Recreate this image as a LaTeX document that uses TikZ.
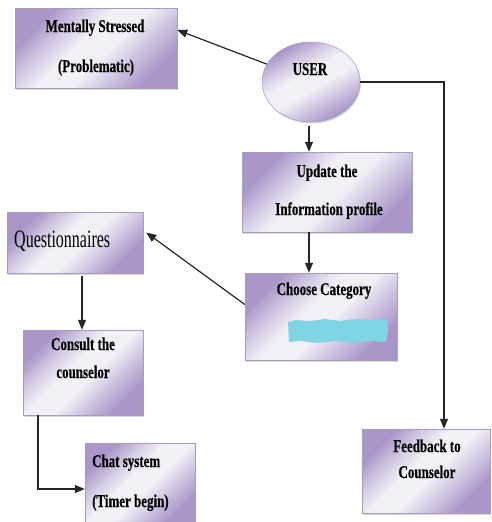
\documentclass[tikz,border=0pt]{standalone}
\usepackage{fontspec}
\setmainfont{Liberation Serif}
\newfontfamily\nfont{Liberation Serif}[FakeStretch=0.72,FakeBold=0.4]
\newfontfamily\qfont{Liberation Serif}[FakeStretch=0.64]
\usetikzlibrary{arrows.meta,shadows,calc,shapes.geometric}
\definecolor{lavdark}{HTML}{AA96C8}
\definecolor{lavmid}{HTML}{D6CCE5}
\definecolor{lavlight}{HTML}{F3F0F7}
\definecolor{boxline}{HTML}{A89BBE}
\definecolor{blob}{HTML}{7FD5E6}
\pgfdeclareverticalshading{lavband}{100bp}{color(0bp)=(lavdark); color(26bp)=(lavdark); color(38bp)=(lavmid); color(46bp)=(lavlight); color(56bp)=(lavlight); color(64bp)=(lavmid); color(74bp)=(lavdark); color(100bp)=(lavdark)}
\begin{document}
\begin{tikzpicture}[x=1pt,y=-1pt,
  box/.style={draw=boxline, line width=0.5pt, shading=lavband, shading angle=45,
    drop shadow={shadow xshift=1pt, shadow yshift=-1.5pt, opacity=0.3}, inner sep=0pt},
  lbl/.style={font=\nfont\bfseries\fontsize{18}{20}\selectfont, inner sep=0pt, anchor=base},
  arr/.style={-{Triangle[length=10pt,width=8pt]}, line width=1.2pt, draw=black!85}]
\useasboundingbox (0,0) rectangle (492,522);
\fill[white] (0,0) rectangle (492,522);

% boxes
\node[box, minimum width=162pt, minimum height=80pt] (ms) at (96,48) {};
\node[box, ellipse, minimum width=98pt, minimum height=80pt, shading angle=30] (user) at (311,82) {};
\node[box, minimum width=170pt, minimum height=80pt] (upd) at (327,192) {};
\node[box, minimum width=152pt, minimum height=87pt] (cat) at (321,316.5) {};
\node[box, minimum width=136pt, minimum height=61pt] (q) at (75,242.5) {};
\node[box, minimum width=120pt, minimum height=85pt] (cons) at (83,372.5) {};
\node[box, minimum width=110pt, minimum height=82pt] (chat) at (140,484) {};
\node[box, minimum width=128pt, minimum height=84pt] (fb) at (426,471) {};

% cyan blob
\fill[blob] (288,322) -- (296,320) -- (310,321) -- (325,319) -- (340,321) -- (355,319) -- (370,320) -- (387,319)
  -- (388,330) -- (386,342) -- (370,341) -- (352,343) -- (335,341) -- (318,343) -- (300,341) -- (289,342) -- cycle;

% labels
\node[lbl] (t1) at (95,32) {Mentally Stressed};
\node[lbl] (t2) at (96,72) {(Problematic)};
\node[lbl] (t3) at (310,75) {USER};
\node[lbl] (t4) at (327,177) {Update the};
\node[lbl] (t5) at (329,215) {Information profile};
\node[lbl] (t6) at (324,295) {Choose Category};
\node[inner sep=0pt, anchor=base west, font=\qfont\fontsize{25}{28}\selectfont] (t7) at (14,247) {Questionnaires};
\node[lbl] (t8) at (83,350) {Consult the};
\node[lbl] (t9) at (83,378) {counselor};
\node[lbl, anchor=base west] (t10) at (92,467) {Chat system};
\node[lbl, anchor=base west] (t11) at (92,507) {(Timer begin)};
\node[lbl] (t12) at (427,452) {Feedback to};
\node[lbl] (t13) at (427,478) {Counselor};

% connectors
\draw[arr] (user.158) -- ([yshift=18pt]ms.east);
\draw[arr] ([xshift=-2pt,yshift=-4pt]user.south) -- ([xshift=-2pt]user.south |- upd.north);
\draw[arr] (user.east) -| ([xshift=18pt]fb.north);
\draw[arr] ([xshift=-2pt]user.south |- upd.south) -- ([xshift=-2pt]user.south |- cat.north);
\draw[arr] ([yshift=12pt]cat.west) -- ([xshift=3pt,yshift=10pt]q.east);
\draw[arr] ([xshift=-1pt,yshift=-3pt]cons.north |- q.south) -- ([xshift=-1pt]cons.north);
\draw[arr] ([xshift=-45pt]cons.south) |- ([yshift=-5pt]chat.west);
\end{tikzpicture}
\end{document}
